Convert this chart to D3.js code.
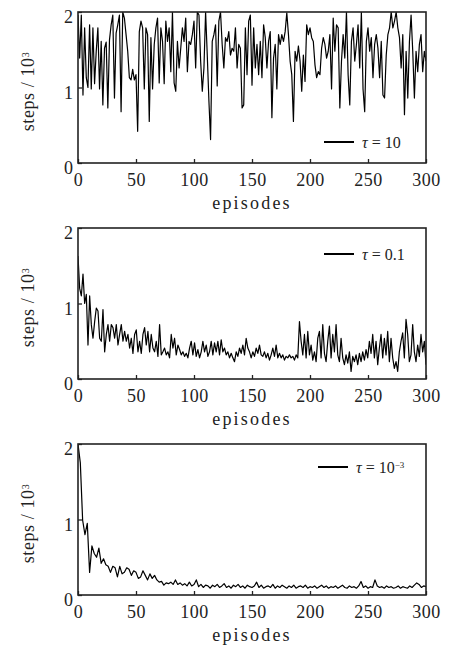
<!DOCTYPE html>
<html>
<head>
<meta charset="utf-8">
<script src="https://cdn.jsdelivr.net/npm/d3@7"></script>
<style>
  body { margin: 0; background: #fff; }
</style>
</head>
<body>
<div id="chart"></div>
<script>
// steps (x10^3) per episode
var tau10 = [1.96, 1.39, 1.96, 0.9, 1.79, 1.13, 1.0, 1.83, 0.98, 1.79, 1.05, 1.48, 1.79, 0.98, 1.61, 0.77, 1.52, 1.6, 0.73, 1.63,
  1.83, 1.96, 0.86, 1.72, 1.83, 1.96, 0.68, 2.0, 1.92, 1.70, 1.48, 1.13, 1.10, 1.24, 1.10, 1.17, 0.42, 1.74, 1.88, 1.79,
  0.98, 1.79, 1.70, 0.55, 1.66, 0.98, 1.57, 1.79, 1.92, 1.06, 1.79, 1.61, 1.05, 1.88, 1.61, 1.79, 1.21, 2.0, 1.06, 0.95,
  1.61, 1.26, 1.52, 1.79, 1.61, 1.92, 1.21, 1.61, 1.57, 1.70, 1.88, 1.26, 2.0, 1.96, 1.35, 0.95, 1.26, 2.0, 1.43, 0.82,
  0.31, 1.61, 1.70, 1.83, 1.02, 1.88, 2.0, 1.57, 1.26, 1.66, 1.61, 1.74, 1.43, 1.52, 1.48, 1.79, 1.26, 1.57, 1.52, 0.73,
  0.77, 1.79, 1.17, 1.88,
  1.96, 1.03, 1.79, 1.26, 1.57, 1.17, 1.61, 1.13, 1.83, 1.66, 1.26, 1.61, 1.74, 0.60, 1.39, 1.57, 0.98, 1.70, 1.57, 1.70,
  1.61, 1.74, 1.99, 1.70, 1.35, 1.17, 0.55, 1.48, 1.35, 1.55, 1.35, 0.95, 1.43, 1.08, 1.83, 1.70, 1.79, 1.66, 1.61, 1.30,
  1.13, 1.21, 1.17, 1.52, 1.66, 1.57, 1.39, 1.48, 1.70, 0.98, 1.92, 1.48, 1.83, 1.79, 0.73, 1.35, 1.70, 1.39, 2.0, 1.17,
  0.77, 1.61, 1.79, 1.35, 1.57, 1.83, 1.26, 2.0, 0.98, 0.68, 1.61, 1.79, 1.48, 1.66, 1.13, 1.57, 1.70, 1.52, 1.13, 1.61,
  0.90, 0.86, 1.43, 1.70, 1.79, 2.0, 1.79, 1.88, 2.0, 1.79, 1.66, 1.26, 1.70, 0.64, 1.48, 0.86, 1.61, 1.96, 1.48, 0.86,
  1.48, 1.21, 1.57, 1.70, 1.21, 1.48, 1.35];

var tau01 = [1.63, 1.2, 1.1, 1.39, 1.0, 1.12, 0.45, 1.1, 0.72, 0.54, 0.76, 0.94, 0.9, 0.54, 0.5, 0.92, 0.36, 0.59, 0.72, 0.5,
  0.72, 0.68, 0.54, 0.72, 0.45, 0.59, 0.72, 0.5, 0.63, 0.5, 0.59, 0.41, 0.54, 0.34, 0.59, 0.65, 0.36, 0.5, 0.34, 0.59,
  0.68, 0.45, 0.63, 0.36, 0.59, 0.41, 0.36, 0.5, 0.3, 0.72, 0.32, 0.36, 0.41, 0.32, 0.36, 0.28, 0.59, 0.41, 0.54, 0.32,
  0.45, 0.39, 0.32, 0.36, 0.3, 0.34, 0.28, 0.41, 0.5, 0.32, 0.48, 0.3, 0.39, 0.28, 0.36, 0.5, 0.36, 0.45, 0.3, 0.36,
  0.5, 0.32, 0.48, 0.36, 0.5, 0.32, 0.52, 0.36, 0.41, 0.32, 0.36, 0.28, 0.34, 0.28, 0.23, 0.36, 0.3, 0.41, 0.34, 0.45,
  0.32, 0.54, 0.41, 0.36, 0.28, 0.36, 0.3, 0.41, 0.34, 0.45, 0.32, 0.3, 0.36, 0.28, 0.34, 0.25, 0.32, 0.41, 0.3, 0.45,
  0.28, 0.34, 0.28, 0.32, 0.25, 0.3, 0.28, 0.32, 0.28, 0.3, 0.25, 0.32, 0.28, 0.76, 0.5, 0.32, 0.59, 0.28, 0.63, 0.32,
  0.45, 0.25, 0.36, 0.23, 0.54, 0.63, 0.28, 0.72, 0.34, 0.23, 0.5, 0.7, 0.28, 0.59, 0.36, 0.72, 0.32, 0.23, 0.54, 0.28,
  0.19, 0.32, 0.21, 0.36, 0.1, 0.3, 0.23, 0.32, 0.19, 0.34, 0.23, 0.36, 0.25, 0.39, 0.28, 0.5, 0.34, 0.59, 0.28, 0.5,
  0.19, 0.41, 0.59, 0.28, 0.54, 0.32, 0.63, 0.23, 0.54, 0.28, 0.14, 0.23, 0.1, 0.36, 0.5, 0.61, 0.28, 0.79, 0.59, 0.23,
  0.32, 0.72, 0.36, 0.23, 0.45, 0.3, 0.59, 0.36, 0.5, 0.19];

var tau1e3 = [2.0, 1.75, 0.99, 0.8, 0.95, 0.3, 0.65, 0.55, 0.5, 0.62, 0.42, 0.48, 0.4, 0.38, 0.3, 0.38, 0.36, 0.24, 0.38, 0.28,
  0.3, 0.36, 0.34, 0.26, 0.32, 0.3, 0.22, 0.24, 0.32, 0.26, 0.2, 0.28, 0.22, 0.26, 0.2, 0.17, 0.18, 0.13, 0.16, 0.15,
  0.17, 0.14, 0.2, 0.14, 0.16, 0.13, 0.15, 0.12, 0.17, 0.12, 0.14, 0.2,
  0.11, 0.14, 0.1, 0.13, 0.12, 0.09, 0.13, 0.11, 0.14, 0.1, 0.12, 0.15, 0.1, 0.12, 0.09, 0.13, 0.11, 0.14, 0.1, 0.12,
  0.09, 0.13, 0.11, 0.1,
  0.12, 0.17, 0.1, 0.13, 0.09, 0.11, 0.12, 0.1, 0.14, 0.09, 0.12, 0.1, 0.13, 0.11, 0.09, 0.12, 0.1, 0.13, 0.09, 0.11,
  0.12, 0.1, 0.13, 0.09, 0.11,
  0.1, 0.12, 0.09, 0.11, 0.13, 0.1, 0.12, 0.09, 0.11, 0.1, 0.12, 0.09, 0.11, 0.13, 0.1, 0.09, 0.12, 0.1, 0.11, 0.09,
  0.12, 0.18, 0.1, 0.12, 0.09,
  0.11, 0.1, 0.2, 0.12, 0.1, 0.11, 0.09, 0.12, 0.1, 0.11, 0.09, 0.1, 0.12, 0.09, 0.11, 0.1, 0.09, 0.12, 0.1, 0.13,
  0.16, 0.14, 0.1, 0.12, 0.11];

var xTicks = [0, 50, 100, 150, 200, 250, 300];
var yTicks = [0, 1, 2];
var legendLabels = ["10", "0.1", "10"];
var legendSup = ["", "", "\u22123"];

var panels = [
  {values: tau10, top: 12, legendY: 130},
  {values: tau01, top: 228, legendY: 26},
  {values: tau1e3, top: 444, legendY: 23}
];

var left = 78, width = 348, height = 151;
var serif = "Liberation Serif";

var svg = d3.select("#chart")
  .append("svg")
    .attr("width", 450)
    .attr("height", 652)
    .attr("font-family", serif);

var x = d3.scaleLinear().domain([0, 300]).range([0, width]);
var y = d3.scaleLinear().domain([0, 2]).range([height, 0]);

panels.forEach(function(p, k) {
  var g = svg.append("g")
    .attr("transform", "translate(" + left + "," + p.top + ")");

  g.append("clipPath").attr("id", "clip" + k)
    .append("rect").attr("width", width).attr("height", height);

  // the series, evenly spread over 0..300 episodes
  var n = p.values.length;
  var pts = p.values.map(function(v, i) { return [i * 300 / (n - 1), v]; });
  g.append("path")
    .datum(pts)
    .attr("clip-path", "url(#clip" + k + ")")
    .attr("fill", "none")
    .attr("stroke", "#000")
    .attr("stroke-width", 1.2)
    .attr("stroke-linejoin", "round")
    .attr("d", d3.line()
      .x(function(d) { return x(d[0]); })
      .y(function(d) { return y(d[1]); }));

  var xa = g.append("g")
    .attr("transform", "translate(0," + height + ")")
    .call(d3.axisBottom(x).tickValues(xTicks).tickSize(-4).tickPadding(10));
  var ya = g.append("g")
    .call(d3.axisLeft(y).tickValues(yTicks).tickSize(-4).tickPadding(5).tickFormat(d3.format("d")));
  [xa, ya].forEach(function(a) {
    a.attr("font-family", serif).attr("font-size", 18);
    a.select(".domain").remove();
    a.selectAll("line").attr("stroke", "#222").attr("stroke-width", 1.3);
    a.selectAll("text").attr("fill", "#222").attr("font-family", serif).attr("font-size", 18);
  });
  ya.selectAll("text").attr("dy", "0.6em");
  xa.selectAll("text").attr("letter-spacing", "0.5px");

  g.append("rect")
    .attr("width", width).attr("height", height)
    .attr("fill", "none").attr("stroke", "#222").attr("stroke-width", 1.6);

  g.append("text")
    .attr("x", width / 2).attr("y", height + 46)
    .attr("text-anchor", "middle")
    .attr("letter-spacing", "2.2px")
    .attr("font-family", serif).attr("font-size", 18).attr("fill", "#222")
    .text("episodes");

  var yl = g.append("text")
    .attr("transform", "translate(-44," + (height / 2 + 4) + ") rotate(-90)")
    .attr("text-anchor", "middle")
    .attr("font-family", serif).attr("font-size", 18).attr("fill", "#222")
    .attr("letter-spacing", "0.6px");
  yl.append("tspan").text("steps / 10");
  yl.append("tspan").attr("dy", "-0.55em").attr("font-size", 10).text("3");

  // legend
  var lg = g.append("g").attr("transform", "translate(" + (k == 2 ? 240 : 246) + "," + p.legendY + ")");
  lg.append("line").attr("x1", 0).attr("x2", 30).attr("stroke", "#000").attr("stroke-width", 2);
  var lt = lg.append("text").attr("x", 38).attr("y", 6)
    .attr("font-family", serif).attr("font-size", 16).attr("fill", "#222");
  lt.append("tspan").attr("font-style", "italic").text("\u03c4");
  lt.append("tspan").text(" = " + legendLabels[k]);
  if (legendSup[k]) lt.append("tspan").attr("dy", "-0.6em").attr("font-size", 9).text(legendSup[k]);
});
</script>
</body>
</html>
